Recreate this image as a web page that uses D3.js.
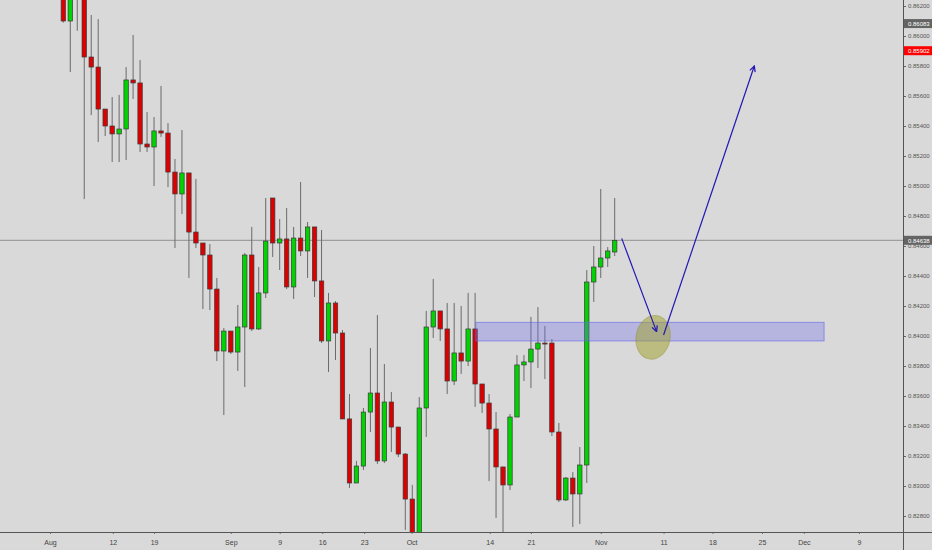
<!DOCTYPE html>
<html>
<head>
<meta charset="utf-8">
<script src="https://cdn.jsdelivr.net/npm/d3@7"></script>
<style>
  html, body { margin: 0; padding: 0; background: #d9d9d9; overflow: hidden; }
  svg { display: block; }
</style>
</head>
<body>
<svg id="chart"></svg>
<script>
// daily candles, index 0 = first bar on screen
const opens = [0.86307,0.86100,0.86373,0.86320,0.85860,0.85793,0.85513,0.85400,0.85347,0.85380,
  0.85707,0.85687,0.85280,0.85260,0.85367,0.85353,0.85093,0.84947,0.85087,0.84693,
  0.84620,0.84540,0.84313,0.83900,0.84033,0.83893,0.84060,0.84540,0.84047,0.84287,
  0.84920,0.84620,0.84647,0.84327,0.84653,0.84567,0.84727,0.84367,0.83967,0.84220,
  0.84020,0.83447,0.83020,0.83133,0.83493,0.83620,0.83167,0.83560,0.83393,0.83213,
  0.82913,0.82640,0.83520,0.84060,0.84167,0.84047,0.83700,0.83887,0.83833,0.84047,
  0.83680,0.83553,0.83380,0.83127,0.83007,0.83460,0.83807,0.83827,0.83913,0.83953,
  0.83953,0.83360,0.82907,0.83053,0.82947,0.83140,0.84360,0.84460,0.84520,0.84560];
const highs = [0.86340,0.86307,0.86440,0.86373,0.86140,0.86113,0.85513,0.85593,0.85607,0.85793,
  0.86007,0.85840,0.85493,0.85460,0.85667,0.85420,0.85180,0.85373,0.85087,0.85047,
  0.84620,0.84613,0.84387,0.84053,0.84033,0.84207,0.84553,0.84727,0.84460,0.84920,
  0.84920,0.84780,0.84853,0.84727,0.85027,0.84760,0.84727,0.84707,0.84287,0.84233,
  0.84040,0.83613,0.83167,0.83520,0.83920,0.84140,0.83813,0.83627,0.83393,0.83220,
  0.83007,0.83593,0.84167,0.84380,0.84167,0.84220,0.84220,0.84200,0.84287,0.84287,
  0.83680,0.83613,0.83493,0.83127,0.83480,0.83873,0.83873,0.84127,0.84193,0.84067,
  0.83980,0.83420,0.83060,0.83093,0.83260,0.84440,0.84600,0.84980,0.84593,0.84920];
const lows = [0.86089,0.85760,0.86035,0.84913,0.85473,0.85293,0.85333,0.85160,0.85160,0.85173,
  0.85580,0.85227,0.85227,0.85000,0.85327,0.84993,0.84587,0.84813,0.84387,0.84587,
  0.84180,0.84173,0.83833,0.83473,0.83880,0.83767,0.83660,0.84033,0.84040,0.84253,
  0.84527,0.84440,0.84313,0.84247,0.84533,0.84387,0.84260,0.83953,0.83760,0.83840,
  0.83447,0.82987,0.83020,0.83107,0.83360,0.83147,0.83153,0.83227,0.83193,0.82707,
  0.82607,0.82600,0.83327,0.83987,0.83967,0.83613,0.83673,0.83747,0.83800,0.83527,
  0.83487,0.83033,0.82787,0.82680,0.82973,0.83460,0.83700,0.83653,0.83787,0.83713,
  0.83333,0.82893,0.82900,0.82727,0.82747,0.83020,0.84227,0.84387,0.84460,0.84533];
const closes = [0.86100,0.86273,0.86293,0.85860,0.85793,0.85513,0.85400,0.85347,0.85380,0.85707,
  0.85687,0.85280,0.85260,0.85367,0.85353,0.85093,0.84947,0.85087,0.84693,0.84620,
  0.84540,0.84313,0.83900,0.84033,0.83893,0.84060,0.84540,0.84047,0.84287,0.84633,
  0.84620,0.84647,0.84327,0.84653,0.84567,0.84727,0.84367,0.83967,0.84220,0.84020,
  0.83447,0.83020,0.83133,0.83493,0.83620,0.83167,0.83560,0.83393,0.83213,0.82913,
  0.82640,0.83520,0.84060,0.84167,0.84047,0.83700,0.83887,0.83833,0.84047,0.83680,
  0.83553,0.83380,0.83127,0.83007,0.83460,0.83807,0.83827,0.83913,0.83953,0.83949,
  0.83360,0.82907,0.83053,0.82947,0.83140,0.84360,0.84460,0.84520,0.84567,0.84638];

// time axis (bar index positions of the date labels)
const dateTicks  = [-1.9, 7.1, 13.0, 24.0, 31.0, 37.1, 43.1, 49.9, 61.1, 67.0, 77.0, 86.0, 93.0, 100.1, 106.1, 114.0];
const dateLabels = ['Aug','12','19','Sep','9','16','23','Oct','14','21','Nov','11','18','25','Dec','9'];

// price axis
const priceTicks = [0.828,0.830,0.832,0.834,0.836,0.838,0.840,0.842,0.844,0.846,
  0.848,0.850,0.852,0.854,0.856,0.858,0.860,0.862];
const lastPrice = 0.84638;
const highLabel = 0.86083;
const alertLabel = 0.85902;

// drawings: support zone, forecast arrows, target ellipse
const zoneBars = [59.1, 109.0];
const zonePrices = [0.84091, 0.83967];
const arrowDownBars = [80.0, 85.0];
const arrowDownPrices = [0.84651, 0.84029];
const arrowUpBars = [86.0, 99.0];
const arrowUpPrices = [0.84007, 0.85800];
const ellipseBar = 84.5;
const ellipsePrice = 0.83991;

const W = 932, H = 550;
const plotRight = 903, plotBottom = 532;
const labelFont = 'Liberation Sans, Arial, sans-serif';

const svg = d3.select('#chart').attr('width', W).attr('height', H);

svg.append('rect').attr('width', W).attr('height', H).attr('fill', '#d9d9d9');

const x = d3.scaleLinear().domain([0, 79]).range([63.3, 614.7]);
const y = d3.scaleLinear().domain([0.828, 0.862]).range([516, 6]);

svg.append('clipPath').attr('id', 'plot')
  .append('rect').attr('width', plotRight).attr('height', plotBottom);

const plot = svg.append('g').attr('clip-path', 'url(#plot)');

// last price line
plot.append('line')
  .attr('x1', 0).attr('x2', plotRight)
  .attr('y1', y(lastPrice)).attr('y2', y(lastPrice))
  .attr('stroke', '#8f8f8f').attr('stroke-width', 1);

const candles = d3.range(opens.length).map(i => ({
  i, o: opens[i], h: highs[i], l: lows[i], c: closes[i]
}));

// wicks
plot.selectAll('line.wick')
  .data(candles)
  .enter()
  .append('line')
  .attr('class', 'wick')
  .attr('x1', d => x(d.i)).attr('x2', d => x(d.i))
  .attr('y1', d => y(d.h)).attr('y2', d => y(d.l))
  .attr('stroke', '#6a6a6a')
  .attr('stroke-width', 1);

// bodies
plot.selectAll('rect.body')
  .data(candles)
  .enter()
  .append('rect')
  .attr('class', 'body')
  .attr('x', d => x(d.i) - 2.2)
  .attr('width', 4.4)
  .attr('y', d => y(Math.max(d.o, d.c)))
  .attr('height', d => Math.max(1, Math.abs(y(d.o) - y(d.c))))
  .attr('fill', d => d.c >= d.o ? '#00d400' : '#dd0000')
  .attr('stroke', '#3a3a3a')
  .attr('stroke-width', 0.7);

// support zone
plot.append('rect')
  .attr('x', x(zoneBars[0]))
  .attr('width', x(zoneBars[1]) - x(zoneBars[0]))
  .attr('y', y(zonePrices[0]))
  .attr('height', y(zonePrices[1]) - y(zonePrices[0]))
  .attr('fill', 'rgba(110,110,240,0.33)')
  .attr('stroke', 'rgba(100,100,235,0.6)')
  .attr('stroke-width', 1);

// target ellipse
plot.append('ellipse')
  .attr('cx', x(ellipseBar)).attr('cy', y(ellipsePrice))
  .attr('rx', 17).attr('ry', 22)
  .attr('transform', `rotate(12, ${x(ellipseBar)}, ${y(ellipsePrice)})`)
  .attr('fill', 'rgba(160,160,40,0.5)')
  .attr('stroke', 'rgba(150,150,60,0.5)');

// arrows
svg.append('defs').append('marker')
  .attr('id', 'head')
  .attr('viewBox', '0 0 10 10')
  .attr('refX', 9).attr('refY', 5)
  .attr('markerWidth', 7).attr('markerHeight', 7)
  .attr('markerUnits', 'userSpaceOnUse')
  .attr('orient', 'auto')
  .append('path')
  .attr('d', 'M1,1 L9,5 L1,9')
  .attr('fill', 'none')
  .attr('stroke', '#2418b4')
  .attr('stroke-width', 1.8);

[[arrowDownBars, arrowDownPrices], [arrowUpBars, arrowUpPrices]].forEach(([b, p]) => {
  plot.append('line')
    .attr('x1', x(b[0])).attr('y1', y(p[0]))
    .attr('x2', x(b[1])).attr('y2', y(p[1]))
    .attr('stroke', '#2418b4')
    .attr('stroke-width', 1.2)
    .attr('marker-end', 'url(#head)');
});

// price axis (right)
const yAxis = svg.append('g')
  .attr('transform', `translate(${plotRight},0)`)
  .call(d3.axisRight(y).tickValues(priceTicks).tickSize(3).tickPadding(2).tickFormat(d3.format('.5f')));
yAxis.select('.domain').remove();
yAxis.selectAll('line').attr('stroke', '#666');
yAxis.selectAll('text')
  .attr('fill', '#555')
  .style('font-family', labelFont)
  .style('font-size', '6px');

// time axis (bottom)
const xAxis = svg.append('g')
  .attr('transform', `translate(0,${plotBottom})`)
  .call(d3.axisBottom(x).tickValues(dateTicks).tickSize(2).tickPadding(6).tickFormat((d, i) => dateLabels[i]));
xAxis.select('.domain').remove();
xAxis.selectAll('line').attr('stroke', '#777');
xAxis.selectAll('text')
  .attr('fill', '#444')
  .style('font-family', labelFont)
  .style('font-size', '7px');

// axis frame lines
svg.append('line')
  .attr('x1', 0).attr('x2', W).attr('y1', plotBottom + 0.5).attr('y2', plotBottom + 0.5)
  .attr('stroke', '#555').attr('stroke-width', 1);
svg.append('line')
  .attr('x1', plotRight + 0.5).attr('x2', plotRight + 0.5).attr('y1', 0).attr('y2', H)
  .attr('stroke', '#555').attr('stroke-width', 1);

// price labels on the axis
const badges = [
  { v: highLabel, fill: '#646464' },
  { v: alertLabel, fill: '#ff0000' },
  { v: lastPrice, fill: '#646464' }
];
badges.forEach(b => {
  const g = svg.append('g').attr('transform', `translate(${plotRight + 1},${y(b.v)})`);
  g.append('rect')
    .attr('x', 0).attr('y', -4.5)
    .attr('width', W - plotRight).attr('height', 9)
    .attr('fill', b.fill);
  g.append('text')
    .attr('x', 4).attr('y', 2.2)
    .attr('fill', '#fff')
    .style('font-family', labelFont)
    .style('font-size', '6px')
    .text(d3.format('.5f')(b.v));
});
</script>
</body>
</html>
